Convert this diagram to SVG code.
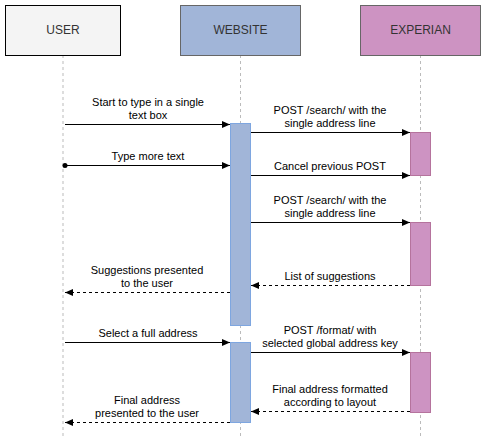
<svg xmlns="http://www.w3.org/2000/svg" width="486" height="442" viewBox="0 0 486 442">
<defs>
<style>
.hdr{stroke-width:1}
.ht{font-family:"Liberation Sans",Arial,sans-serif;font-size:12px;fill:#333;text-anchor:middle}
.lbl{font-family:"Liberation Sans",Arial,sans-serif;font-size:11px;fill:#000;text-anchor:middle}
.life{stroke:#bbb;stroke-width:1;stroke-dasharray:3 3;fill:none}
.msg{stroke:#000;stroke-width:1;fill:none}
.ret{stroke:#000;stroke-width:1;fill:none;stroke-dasharray:3 3}
.wact{fill:#a1b5d8;stroke:#7ea6e0;stroke-width:1}
.eact{fill:#cd93c2;stroke:#b5739d;stroke-width:1}
</style>
<marker id="ah" markerWidth="8" markerHeight="8" viewBox="0 0 8 8" refX="8" refY="4" orient="auto" markerUnits="userSpaceOnUse">
<path d="M0,0.5 L8,4 L0,7.5 Z" fill="#000"/>
</marker>
<marker id="dot" markerWidth="6" markerHeight="6" viewBox="0 0 6 6" refX="3" refY="3" orient="auto" markerUnits="userSpaceOnUse">
<circle cx="3" cy="3" r="2.5" fill="#000"/>
</marker>
</defs>
<rect width="486" height="442" fill="#fff"/>
<g id="lifelines">
<line class="life" x1="63" y1="55" x2="63" y2="436"/>
<line class="life" x1="240.5" y1="55" x2="240.5" y2="436"/>
<line class="life" x1="420.5" y1="55" x2="420.5" y2="436"/>
</g>
<g id="user">
<rect class="hdr" x="5.5" y="5.5" width="115" height="50" fill="#f4f4f4" stroke="#000"/>
<text class="ht" x="63" y="34">USER</text>
</g>
<g id="website">
<rect class="hdr" x="180.5" y="5.5" width="120" height="50" fill="#a1b5d8" stroke="#666"/>
<text class="ht" x="240.5" y="34">WEBSITE</text>
</g>
<g id="experian">
<rect class="hdr" x="360.5" y="5.5" width="120" height="50" fill="#cd93c2" stroke="#666"/>
<text class="ht" x="420.5" y="34">EXPERIAN</text>
</g>
<g id="website-act1"><rect class="wact" x="230.5" y="123.5" width="20" height="202"/></g>
<g id="website-act2"><rect class="wact" x="230.5" y="342.5" width="20" height="80"/></g>
<g id="experian-act1"><rect class="eact" x="410.5" y="132.5" width="20" height="43"/></g>
<g id="experian-act2"><rect class="eact" x="410.5" y="222.5" width="20" height="63"/></g>
<g id="experian-act3"><rect class="eact" x="410.5" y="352.5" width="20" height="60"/></g>
<g id="connectors">
<line class="msg" x1="65" y1="124.5" x2="230" y2="124.5" marker-end="url(#ah)"/>
<line class="msg" x1="65" y1="165.5" x2="230" y2="165.5" marker-start="url(#dot)" marker-end="url(#ah)"/>
<line class="msg" x1="251" y1="132.5" x2="410" y2="132.5" marker-end="url(#ah)"/>
<line class="msg" x1="251" y1="175.5" x2="410" y2="175.5" marker-end="url(#ah)"/>
<line class="msg" x1="251" y1="222.5" x2="410" y2="222.5" marker-end="url(#ah)"/>
<line class="ret" x1="410" y1="285.5" x2="251" y2="285.5" marker-end="url(#ah)"/>
<line class="ret" x1="230" y1="292.5" x2="65" y2="292.5" marker-end="url(#ah)"/>
<line class="msg" x1="65" y1="342.5" x2="230" y2="342.5" marker-end="url(#ah)"/>
<line class="msg" x1="251" y1="352.5" x2="410" y2="352.5" marker-end="url(#ah)"/>
<line class="ret" x1="410" y1="411.5" x2="251" y2="411.5" marker-end="url(#ah)"/>
<line class="ret" x1="230" y1="422.5" x2="65" y2="422.5" marker-end="url(#ah)"/>
</g>
<g id="labels">
<text class="lbl" x="148" y="106">Start to type in a single</text>
<text class="lbl" x="148" y="119">text box</text>
<text class="lbl" x="148" y="160">Type more text</text>
<text class="lbl" x="330" y="114">POST /search/ with the</text>
<text class="lbl" x="330" y="127">single address line</text>
<text class="lbl" x="330" y="170">Cancel previous POST</text>
<text class="lbl" x="330" y="204">POST /search/ with the</text>
<text class="lbl" x="330" y="217">single address line</text>
<text class="lbl" x="330" y="280">List of suggestions</text>
<text class="lbl" x="147" y="274">Suggestions presented</text>
<text class="lbl" x="147" y="287">to the user</text>
<text class="lbl" x="148" y="337">Select a full address</text>
<text class="lbl" x="330" y="334">POST /format/ with</text>
<text class="lbl" x="330" y="347">selected global address key</text>
<text class="lbl" x="330" y="393">Final address formatted</text>
<text class="lbl" x="330" y="406">according to layout</text>
<text class="lbl" x="147" y="404">Final address</text>
<text class="lbl" x="147" y="417">presented to the user</text>
</g>
</svg>
